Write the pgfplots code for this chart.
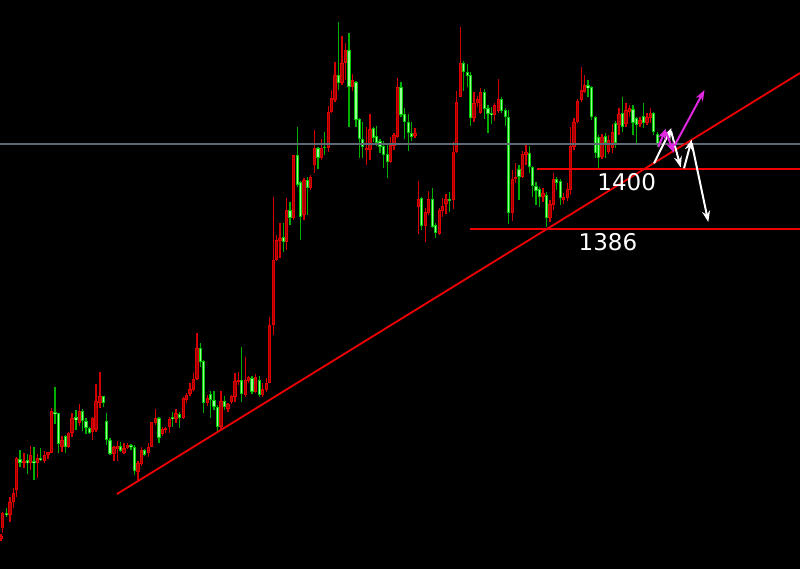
\documentclass[border=0pt]{standalone}
\usepackage{fontspec}
\setmainfont{DejaVu Sans}
\usepackage{pgfplots}
\usepackage{pgfplotstable}
\pgfplotsset{compat=1.18}
\usetikzlibrary{arrows.meta}
\definecolor{rwick}{RGB}{210,0,0}
\definecolor{rbord}{RGB}{225,0,0}
\definecolor{rfill}{RGB}{165,0,0}
\definecolor{gwick}{RGB}{0,175,0}
\definecolor{gbord}{RGB}{0,200,0}
\definecolor{gfill}{RGB}{150,255,150}
\definecolor{lred}{RGB}{240,0,0}
\definecolor{pline}{RGB}{95,105,118}
\definecolor{mag}{RGB}{225,40,225}

\pgfplotstableread{
x bt bb wt wb
1 536 539 534 541
2.7 513.3 528.3 511.7 532.7
10 501.7 515 496.7 521.7
13.3 493.3 501.7 488.3 508.3
16.7 458.3 490 457.3 496.7
24 461 462.5 453.3 468.3
30.7 455 463.3 446 470
37.3 458.3 463.3 454.3 478.3
44.7 455 460.7 450.7 463.3
48 451.7 455 451.7 459.3
51.3 410.7 452.7 408.3 453.3
62 440 447.3 436 451.7
68.7 432.7 447.3 431.7 448.3
72 418.3 433.3 413.3 437.3
79.3 410.7 423.3 404 426
92.7 418.3 431.7 416.7 440
96 400.7 430 384 431.7
100 396 403.3 371.7 408.3
114 447.3 454 446 460.7
117.3 446 449.3 440.7 460.7
124 448.3 452.7 443.3 454
127.3 445 448.3 443.3 449.3
138 463 472 461 482
141.3 450 464 446.7 466
148.3 446.7 453.3 443.3 457.3
151.7 421.7 446.7 421.7 447.3
155.3 418.3 422.7 409.3 425
162.3 429.3 434 426.7 436
165.7 428.3 430 426.7 433.3
169.3 419.3 426.7 417.3 432.7
176 413.3 419.3 409.3 423.3
183.3 398.3 418.3 396.7 419.3
186.7 395 400 393.3 402.7
190 389.3 394 383.3 396
193.3 379.3 390 372.7 390.7
197 348.3 379.3 332.7 380
207.3 398.3 403.3 395 406
221 400.7 427.3 390.7 429.3
228 404 409.3 402.7 411.7
231.3 396 401.7 395 404
235 380.7 396.7 372.7 401.7
238.3 380 381.7 371.7 385
245.3 380 395 357.3 396.7
248.7 376.7 380.7 376 382.7
255.7 376.7 391.7 374 393.3
262.7 389.3 395 382.7 396.7
266.3 382.7 390 378.3 391.7
269.7 325 382.5 316.7 383
273.3 260 325 196.7 335
276.7 240 260 235 261
280 237.7 241 223.3 257.7
286.7 210 241.7 197.7 250
293.3 155 218.3 155 220
304 180 215 178.3 220
310.7 176.7 188.3 175 190
314.3 147.7 165 130 173.3
321.3 147.7 157.7 139 160
328.3 111.7 147.7 105.7 151.7
331.3 98.3 111.7 90 113.3
335 75 100 61.7 102.3
342 62.7 83.3 35.7 85
345.3 50 62.7 43.3 80
352.7 80 87 74 91
366.7 148 150 126.7 165
370 129 150 114.3 160
390.7 145 161.7 136.7 163.3
394 135 145.7 133.3 150
397.7 86.7 136.7 77.7 137.7
415 133.3 135.7 128.3 137.7
418.3 199 206.7 181 234.3
425.3 212.3 225.7 207.7 241.7
428.7 199 213.3 191 215
439.3 210 234.3 207.7 235
442.7 205.7 211 198.3 216.7
446 199 204.3 194.3 214.3
453.3 152.3 200 141.7 209
456.7 102.3 152.3 91 153.3
460.3 63.3 96.7 26.7 96.7
474 102.7 118.3 91.7 121.7
477.3 99.3 103.3 96 107.3
480.7 91.7 113.3 88.3 114
494.7 105 115 103.3 120.7
498.3 99.3 110.7 79.3 112.7
512.3 179.3 213.3 170 220.7
515.7 176.7 179.3 162.7 182.7
522.3 154 176.7 150.7 178.3
526 151.7 155 143.3 165
543 192.7 197.3 188.3 201.7
550 204 218.3 200 221.7
553.3 179.3 205 172.7 210
563.7 196.7 200 192.7 204
567.3 189.3 198.3 183.3 200.7
570.7 146 190 127.3 195
574 121.7 146.7 118.3 150
577.7 100.7 121.7 99.3 122.7
581.7 90 100 67.3 101.7
584.7 85 91.7 75 93.3
602 137.3 156.7 134 159.3
608.7 140 151.7 135 154
612.3 131.7 148.3 124 153.3
619 114 125 108.3 135
626 110 124 103.3 126.7
629.3 108.3 111.7 105 116.7
640 120 124 116.7 126.7
647 116.7 123.3 113.3 125
650.3 112.7 118.3 108.3 123.3
}\redc

\pgfplotstableread{
x bt bb wt wb
6.7 512.7 515 508.3 516.7
20 458.7 462.7 450 467.3
27.3 460 463.3 454 474
34 460.7 463.3 446.7 480
40.7 458 460 448.3 460.7
55 411.7 414.3 387.3 424
58.3 413.3 444 413.3 453.3
65.3 436 447.3 435 452.7
76 417.3 420 410 430
82.7 410.7 420.7 409.3 430.7
86 420.7 428.3 418.3 434
89.3 428.3 433.3 426.7 434
103.3 396 402.7 396 407.3
106.7 421 440 412.7 445
110 440 454 438.3 455
120.7 446 450.7 441.7 451.7
131 445 447.3 444 450
134.5 446.7 470.7 445 475
144.7 450 455 449.3 456
159 418.3 438.3 417.3 442.7
172.7 417.3 419.3 411.7 427.3
179.3 414 418.3 411.7 428.3
200.3 348.3 361.7 342.7 366.7
203.7 360.7 403.3 360 412.7
210.7 394 400 390.7 418.3
214 400 406.7 390.7 410
217.3 406.7 426.7 405 430.7
224.3 400.7 407.3 396 410
241.7 380 394 347.3 401.7
252 378.3 391.7 376 394
259.3 380 395 376 396.7
283.3 236.7 241.7 223.3 251.7
290 210 217.7 201.7 225
297.3 155 185 126.7 186.7
300.7 181.7 216.7 181 240
307.3 180 188.3 176.7 215
318 147.7 157.7 146.7 169
324.7 146.7 148.3 131.7 155
338.7 75 83.3 21.7 90
349 50 86.7 33.3 126.7
356 81.7 120 81 126.7
359.3 119 139 118.3 158.3
362.7 139 146.7 121.7 158.3
373.3 128.3 138.3 126.7 141.7
376.7 135.7 143.3 125.7 145.7
380 141 146.7 139 153.3
383.7 145.7 155 141 168.3
387.3 154.3 161.7 145 178.3
401 86.7 115 82.3 116.7
404.7 114.3 122.3 107.7 139
408.3 122.3 133.3 114.3 151
411.7 133.3 136.7 121.7 141
421.7 198.3 225.7 196.7 230
432.3 199 226.7 188.3 228.3
435.7 225 233.3 223.3 238.3
449.3 199 200.3 191.7 211.7
463.7 63.3 72.3 61 91
467.3 71.7 75.7 64 86.7
470.7 75 118.3 71.7 126
484.3 91.7 109.3 89.3 119.3
488 108.3 114 105 132.7
491.3 112.7 115 107.3 124
501.7 99.3 110.7 96.7 112.7
505.3 110 117.3 108.3 126
508.7 117.3 213.3 110 224
519 169.3 176.7 165 200
529.3 152.7 167.3 146 172.7
532.7 166.7 186 166 196.7
536 186 190.7 181.7 205
539.3 189.3 197.3 187.3 207.3
546.3 195 218.3 191.7 226.7
556.7 179.3 182.7 176.7 190
560.3 180.7 198.3 179.3 205
588 85 88.3 80 96.7
591.7 86.7 117.3 86 120
595.3 117.3 153.3 116 158.3
598.7 136.7 158.3 135 168.3
605.3 136 143.3 133.3 158.3
615.7 123.3 143.3 120.7 148.3
622.7 113.3 126.7 97.3 131.7
633 109.3 123.3 105 135
636.3 118.3 125 116.7 142.7
643.3 116 123.3 102.7 128.3
653.7 113.3 131.7 111.7 135
657.3 134 145 131.7 147.3
}\greenc

\pgfplotsset{
  seg/.style 2 args={draw=none, mark=none, forget plot,
    error bars/.cd, y dir=both, y explicit, error mark=none,
    error bar style={draw=#1, line width=#2, line cap=butt}},
}
\newcommand\wicks[2]{%
  \addplot[seg={#2}{1.1pt}] table[x=x, y expr={(\thisrow{wt}+\thisrow{wb})/2},
    y error expr={(\thisrow{wb}-\thisrow{wt})/2}] {#1};}
\newcommand\bodies[3]{%
  \addplot[seg={#2}{3.2pt}] table[x=x, y expr={(\thisrow{bt}+\thisrow{bb})/2},
    y error expr={max((\thisrow{bb}-\thisrow{bt})/2,0.7)}] {#1};
  \addplot[seg={#3}{1.4pt}] table[x=x, y expr={(\thisrow{bt}+\thisrow{bb})/2},
    y error expr={max((\thisrow{bb}-\thisrow{bt})/2-0.9,0)}] {#1};}

\begin{document}
\begin{tikzpicture}
\begin{axis}[
  width=800pt, height=569pt, scale only axis,
  xmin=0, xmax=800, ymin=0, ymax=569, y dir=reverse,
  axis line style={draw=none}, xtick=\empty, ytick=\empty,
  axis background/.style={fill=black},
  clip=true,
]
\wicks{\redc}{rwick}
\wicks{\greenc}{gwick}
\bodies{\redc}{rbord}{rfill}
\bodies{\greenc}{gbord}{gfill}

% price line
\addplot[pline, line width=1.6pt, forget plot] coordinates {(0,144) (800,144)};
% trend line and levels
\addplot[lred, line width=1.8pt, forget plot] coordinates {(117,494) (800,73)};
\addplot[lred, line width=1.8pt, forget plot] coordinates {(537,169.3) (800,169.3)};
\addplot[lred, line width=1.8pt, forget plot] coordinates {(470,229) (800,229)};

% scenario arrows
\addplot[white, line width=2pt, -{Stealth[length=11pt,width=8pt]}, forget plot] coordinates {(654,163.3) (671.5,128)};
\addplot[white, line width=2pt, -{Stealth[length=11pt,width=8pt]}, forget plot] coordinates {(671,131) (680.7,167.5)};
\addplot[white, line width=2pt, -{Stealth[length=11pt,width=8pt]}, forget plot] coordinates {(684,168.3) (691.7,139.5)};
\addplot[white, line width=2pt, -{Stealth[length=11pt,width=8pt]}, forget plot] coordinates {(691.7,143) (708.3,222)};
\addplot[mag, line width=2pt, -{Stealth[length=11pt,width=8pt]}, forget plot] coordinates {(658.3,147) (666,128.5)};
\addplot[mag, line width=2pt, -{Stealth[length=11pt,width=8pt]}, forget plot] coordinates {(666,132) (674,153)};
\addplot[mag, line width=2pt, -{Stealth[length=11pt,width=8pt]}, forget plot] coordinates {(674.3,146) (704.5,90)};

\node[white, font=\fontsize{23}{23}\selectfont, inner sep=0pt] at (axis cs:626.7,181.7) {1400};
\node[white, font=\fontsize{23}{23}\selectfont, inner sep=0pt] at (axis cs:608,242.3) {1386};
\end{axis}
\end{tikzpicture}
\end{document}
